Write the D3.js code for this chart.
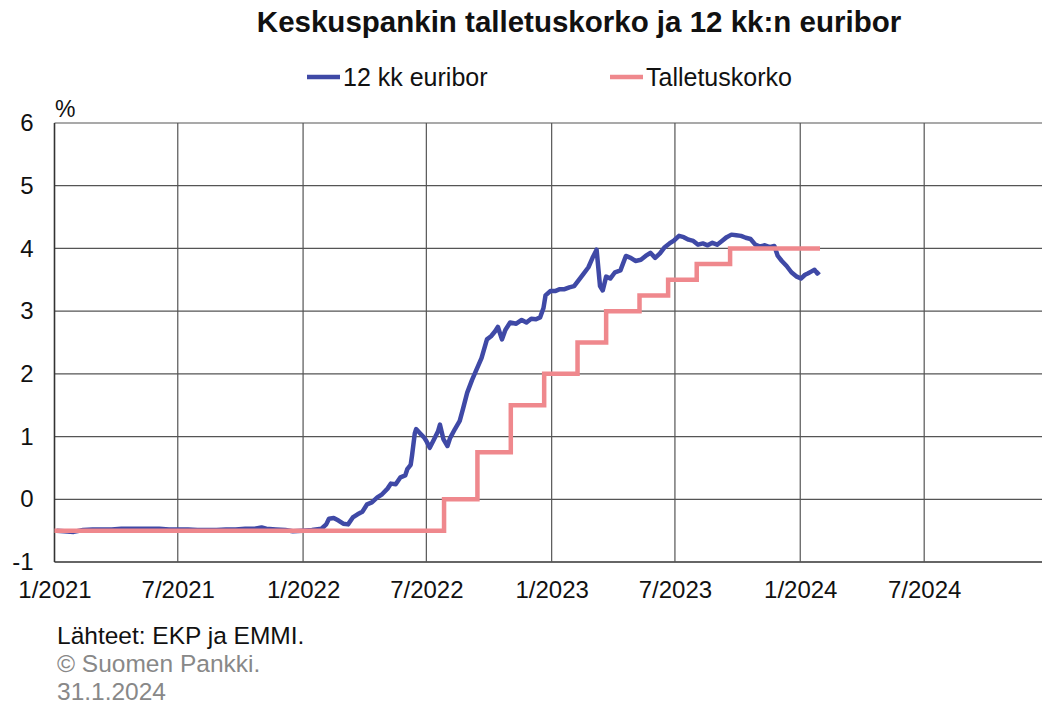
<!DOCTYPE html>
<html><head><meta charset="utf-8">
<script src="https://cdn.jsdelivr.net/npm/d3@7"></script>
<style>
body{margin:0;background:#fff;}
text{font-family:"Liberation Sans",Arial,sans-serif;}
</style></head>
<body><svg id="c" width="1042" height="708"></svg>
<script>
const yTicks = [-1,0,1,2,3,4,5,6];
const yTickLabels = ["-1","0","1","2","3","4","5","6"];
const xTickLabels = ["1/2021","7/2021","1/2022","7/2022","1/2023","7/2023","1/2024","7/2024",""];
const xTickDates = ["2021-01-01","2021-07-01","2022-01-01","2022-07-01","2023-01-01","2023-07-01","2024-01-01","2024-07-01","2025-01-01"];

const depositDates = ["2021-01-01","2022-07-27","2022-09-14","2022-11-02","2022-12-21","2023-02-08","2023-03-22","2023-05-10","2023-06-21","2023-08-02","2023-09-20","2024-01-30"];
const depositValues = [-0.5,0,0.75,1.5,2.0,2.5,3.0,3.25,3.5,3.75,4.0,4.0];

const euriborDates = [
"2021-01-04","2021-01-15","2021-01-29","2021-02-12","2021-02-26","2021-03-12","2021-03-26","2021-04-09","2021-04-23","2021-05-07",
"2021-05-21","2021-06-04","2021-06-18","2021-07-02","2021-07-16","2021-07-30","2021-08-13","2021-08-27","2021-09-10","2021-09-24",
"2021-10-08","2021-10-22","2021-11-01","2021-11-08","2021-11-22","2021-12-06","2021-12-17","2021-12-31",
"2022-01-14","2022-01-28","2022-02-04","2022-02-08","2022-02-15","2022-02-22","2022-03-01","2022-03-08","2022-03-15","2022-03-22",
"2022-03-29","2022-04-05","2022-04-12","2022-04-20","2022-04-27","2022-05-05","2022-05-10","2022-05-17","2022-05-24","2022-05-31",
"2022-06-03","2022-06-08","2022-06-10","2022-06-14","2022-06-16","2022-06-22","2022-06-28","2022-07-01","2022-07-06","2022-07-12",
"2022-07-18","2022-07-21","2022-07-26","2022-08-01","2022-08-05","2022-08-12","2022-08-19","2022-08-24","2022-08-30","2022-09-06",
"2022-09-12","2022-09-20","2022-09-28","2022-10-04","2022-10-10","2022-10-14","2022-10-20","2022-10-25","2022-11-01","2022-11-10",
"2022-11-18","2022-11-25","2022-12-02","2022-12-09","2022-12-15","2022-12-20","2022-12-23","2022-12-30",
"2023-01-06","2023-01-13","2023-01-20","2023-01-27","2023-02-03","2023-02-10","2023-02-17","2023-02-24","2023-03-02","2023-03-08",
"2023-03-13","2023-03-17","2023-03-22","2023-03-28","2023-04-04","2023-04-12","2023-04-20","2023-04-27","2023-05-04","2023-05-12",
"2023-05-19","2023-05-26","2023-06-02","2023-06-09","2023-06-16","2023-06-23","2023-06-30","2023-07-07","2023-07-14","2023-07-21",
"2023-07-28","2023-08-04","2023-08-11","2023-08-18","2023-08-25","2023-09-01","2023-09-08","2023-09-15","2023-09-22","2023-09-29",
"2023-10-06","2023-10-13","2023-10-20","2023-10-27","2023-11-03","2023-11-10","2023-11-17","2023-11-24","2023-11-29","2023-12-05",
"2023-12-12","2023-12-19","2023-12-27","2024-01-02","2024-01-08","2024-01-12","2024-01-17","2024-01-22","2024-01-26","2024-01-29"];
const euriborValues = [
-0.50,-0.51,-0.52,-0.49,-0.48,-0.48,-0.48,-0.47,-0.47,-0.47,
-0.47,-0.47,-0.48,-0.48,-0.48,-0.49,-0.49,-0.49,-0.48,-0.48,
-0.47,-0.47,-0.45,-0.47,-0.48,-0.49,-0.51,-0.50,
-0.49,-0.47,-0.40,-0.31,-0.30,-0.34,-0.39,-0.40,-0.29,-0.24,
-0.20,-0.08,-0.05,0.03,0.08,0.17,0.25,0.24,0.35,0.38,
0.48,0.55,0.70,1.05,1.12,1.05,0.98,0.93,0.82,0.95,
1.08,1.19,0.96,0.85,0.98,1.12,1.25,1.45,1.70,1.90,
2.05,2.25,2.55,2.60,2.68,2.75,2.55,2.70,2.82,2.80,
2.86,2.82,2.88,2.87,2.90,3.05,3.25,3.32,
3.32,3.35,3.35,3.38,3.40,3.50,3.60,3.70,3.85,3.98,
3.40,3.33,3.55,3.52,3.62,3.65,3.88,3.85,3.80,3.82,
3.88,3.93,3.85,3.92,4.02,4.08,4.13,4.20,4.18,4.14,
4.12,4.06,4.08,4.05,4.09,4.06,4.12,4.18,4.22,4.21,
4.20,4.17,4.15,4.06,4.03,4.05,4.02,4.04,3.88,3.80,
3.72,3.62,3.55,3.52,3.58,3.60,3.63,3.66,3.60,3.63];

const title = "Keskuspankin talletuskorko ja 12 kk:n euribor";
const seriesNames = ["12 kk euribor","Talletuskorko"];
const colors = ["#3f49a6","#ef888d"];
const footer = ["Lähteet: EKP ja EMMI.","© Suomen Pankki.","31.1.2024"];

const parse = d3.timeParse("%Y-%m-%d");
const svg = d3.select("#c");
const x = d3.scaleTime().domain([parse("2021-01-01"), parse("2025-01-01")]).range([54.5, 1049.5]);
const y = d3.scaleLinear().domain([-1, 6]).range([562, 123]);

// grid
const g = svg.append("g");
g.selectAll("line.h").data(yTicks).join("line")
  .attr("x1", x.range()[0]).attr("x2", x.range()[1])
  .attr("y1", d => y(d)).attr("y2", d => y(d))
  .attr("stroke", d => d === -1 ? "#333" : "#555").attr("stroke-width", d => d === -1 ? 1.6 : 1.2);
g.selectAll("line.v").data(xTickDates).join("line")
  .attr("x1", d => x(parse(d))).attr("x2", d => x(parse(d)))
  .attr("y1", y(6)).attr("y2", y(-1))
  .attr("stroke", (d,i) => i === 0 ? "#333" : "#555").attr("stroke-width", (d,i) => i === 0 ? 1.6 : 1.2);

// axes labels
const yAxis = d3.axisLeft(y).tickValues(yTicks).tickSize(0).tickPadding(21).tickFormat((d,i) => yTickLabels[i]);
svg.append("g").attr("transform", `translate(${x.range()[0]},0)`).call(yAxis)
  .call(s => s.select(".domain").remove())
  .call(s => s.selectAll("text").attr("font-size", 24).attr("fill", "#111").attr("font-family", "Liberation Sans, Arial, sans-serif"));
const xAxis = d3.axisBottom(x).tickValues(xTickDates.map(parse)).tickSize(0).tickPadding(19)
  .tickFormat((d,i) => xTickLabels[i]);
svg.append("g").attr("transform", `translate(0,${y(-1)})`).call(xAxis)
  .call(s => s.select(".domain").remove())
  .call(s => s.selectAll("text").attr("font-size", 24).attr("fill", "#111").attr("font-family", "Liberation Sans, Arial, sans-serif"));

svg.append("text").attr("x", 55).attr("y", 117).attr("font-size", 23).attr("fill", "#111").text("%");

// euribor
const eur = euriborDates.map((d,i) => ({date: parse(d), v: euriborValues[i]}));
svg.append("path").datum(eur)
  .attr("d", d3.line().x(d => x(d.date)).y(d => y(d.v)))
  .attr("fill", "none").attr("stroke", colors[0]).attr("stroke-width", 4.5).attr("stroke-linejoin", "round");

// deposit step line
const dep = depositDates.map((d,i) => ({date: parse(d), v: depositValues[i]}));
svg.append("path").datum(dep)
  .attr("d", d3.line().x(d => x(d.date)).y(d => y(d.v)).curve(d3.curveStepAfter))
  .attr("fill", "none").attr("stroke", colors[1]).attr("stroke-width", 4.5);

// title
svg.append("text").attr("x", 579).attr("y", 32).attr("text-anchor", "middle")
  .attr("font-size", 29.5).attr("font-weight", "bold").attr("fill", "#111").text(title);

// legend
const legX = [307, 610];
seriesNames.forEach((n,i) => {
  svg.append("line").attr("x1", legX[i]).attr("x2", legX[i] + 33).attr("y1", 77).attr("y2", 77)
    .attr("stroke", colors[i]).attr("stroke-width", 4.5);
  svg.append("text").attr("x", legX[i] + 36).attr("y", 86).attr("font-size", 25).attr("fill", "#111").text(n);
});

// footer
const fy = [644, 672, 700];
const fc = ["#111", "#888", "#888"];
footer.forEach((t,i) => {
  svg.append("text").attr("x", 57).attr("y", fy[i]).attr("font-size", 24.5).attr("fill", fc[i]).text(t);
});
</script></body></html>
